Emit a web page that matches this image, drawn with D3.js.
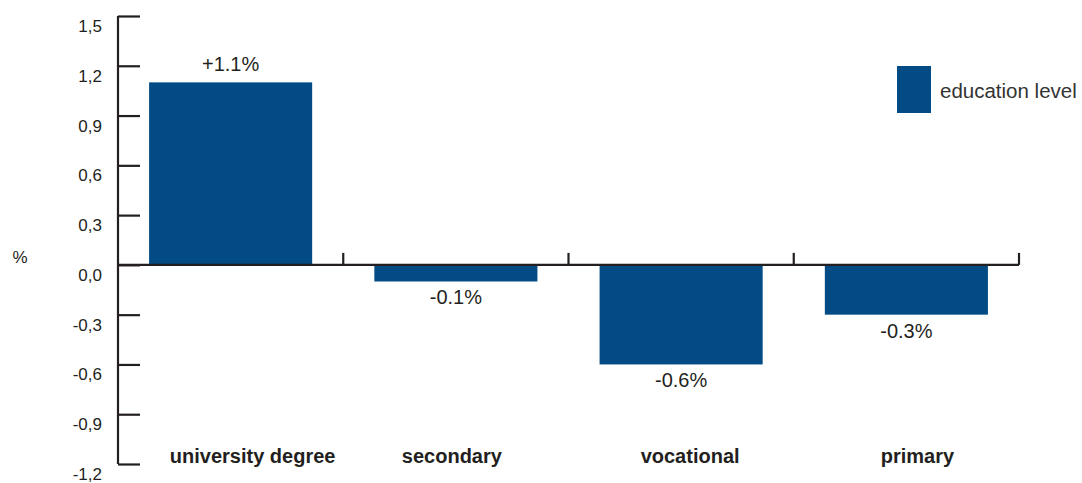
<!DOCTYPE html>
<html>
<head>
<meta charset="utf-8">
<script src="https://cdn.jsdelivr.net/npm/d3@7"></script>
<style>
  html, body { margin: 0; padding: 0; background: #fff; }
  svg { display: block; font-family: "Liberation Sans", Arial, sans-serif; }
</style>
</head>
<body>
<svg id="chart" width="1082" height="483"></svg>
<script>
// Change by education level, in percent
const categories = ["university degree", "secondary", "vocational", "primary"];
const values = [1.1, -0.1, -0.6, -0.3];
const valueLabels = ["+1.1%", "-0.1%", "-0.6%", "-0.3%"];
const yTicks = [1.5, 1.2, 0.9, 0.6, 0.3, 0.0, -0.3, -0.6, -0.9, -1.2];
const yTickLabels = ["1,5", "1,2", "0,9", "0,6", "0,3", "0,0", "-0,3", "-0,6", "-0,9", "-1,2"];
const seriesName = "education level";

const barColor = "#024b84";
const axisColor = "#231f20";
const textColor = "#231f20";

const svg = d3.select("#chart");

const plot = { left: 118, right: 1019, top: 16, bottom: 464 };

const y = d3.scaleLinear().domain([-1.2, 1.5]).range([plot.bottom, plot.top]);
const x = d3.scaleBand().domain(categories).range([plot.left, plot.right])
  .paddingInner(0.276).paddingOuter(0.138);

// Vertical axis with ticks pointing right
const yAxis = d3.axisRight(y)
  .tickValues(yTicks)
  .tickSize(22)
  .tickFormat("");
const gy = svg.append("g").attr("transform", `translate(${plot.left},0)`).call(yAxis);
gy.select(".domain").attr("stroke", axisColor).attr("stroke-width", 2.2)
  .attr("d", `M0,${y(1.5)}V${y(-1.2)}`);
gy.selectAll(".tick line").attr("stroke", axisColor).attr("stroke-width", 2.2);

// Tick labels sit just below their tick
svg.append("g").selectAll("text")
  .data(yTicks)
  .join("text")
  .attr("x", 102)
  .attr("y", d => y(d) + 16)
  .attr("text-anchor", "end")
  .attr("font-size", 17)
  .attr("fill", textColor)
  .text((d, i) => yTickLabels[i]);

svg.append("text")
  .attr("x", 20).attr("y", 263)
  .attr("text-anchor", "middle")
  .attr("font-size", 17)
  .attr("fill", textColor)
  .text("%");

// Bars
svg.append("g").selectAll("rect")
  .data(values)
  .join("rect")
  .attr("x", (d, i) => x(categories[i]))
  .attr("width", x.bandwidth())
  .attr("y", d => y(Math.max(0, d)))
  .attr("height", d => Math.abs(y(d) - y(0)))
  .attr("fill", barColor);

// Horizontal zero axis with category separators pointing up
const xAxis = d3.axisTop(x).tickSize(0).tickFormat("");
const gx = svg.append("g").attr("transform", `translate(0,${y(0)})`).call(xAxis);
gx.select(".domain").attr("stroke", axisColor).attr("stroke-width", 2.2)
  .attr("d", `M${plot.left},0H${plot.right}`);
const separators = categories.map(c => x(c) + x.bandwidth() + x.step() * x.paddingInner() / 2);
separators[separators.length - 1] = plot.right;
gx.selectAll(".sep")
  .data(separators)
  .join("line")
  .attr("class", "sep")
  .attr("x1", d => d).attr("x2", d => d)
  .attr("y1", 0).attr("y2", -12)
  .attr("stroke", axisColor).attr("stroke-width", 2.2);

// Value labels
svg.append("g").selectAll("text")
  .data(values)
  .join("text")
  .attr("x", (d, i) => x(categories[i]) + x.bandwidth() / 2)
  .attr("y", d => d >= 0 ? y(d) - 11 : y(d) + 23)
  .attr("text-anchor", "middle")
  .attr("font-size", 20)
  .attr("fill", textColor)
  .text((d, i) => valueLabels[i]);

// Category labels
const labelShift = [22, -4, 9, 11];
svg.append("g").selectAll("text")
  .data(categories)
  .join("text")
  .attr("x", (d, i) => x(d) + x.bandwidth() / 2 + labelShift[i])
  .attr("y", 463)
  .attr("text-anchor", "middle")
  .attr("font-size", 20)
  .attr("font-weight", "bold")
  .attr("fill", textColor)
  .text(d => d);

// Legend
const legend = svg.append("g").attr("transform", "translate(897,66)");
legend.append("rect").attr("width", 34).attr("height", 47).attr("fill", barColor);
legend.append("text")
  .attr("x", 43).attr("y", 32)
  .attr("font-size", 20.5)
  .attr("fill", "#333")
  .text(seriesName);
</script>
</body>
</html>
